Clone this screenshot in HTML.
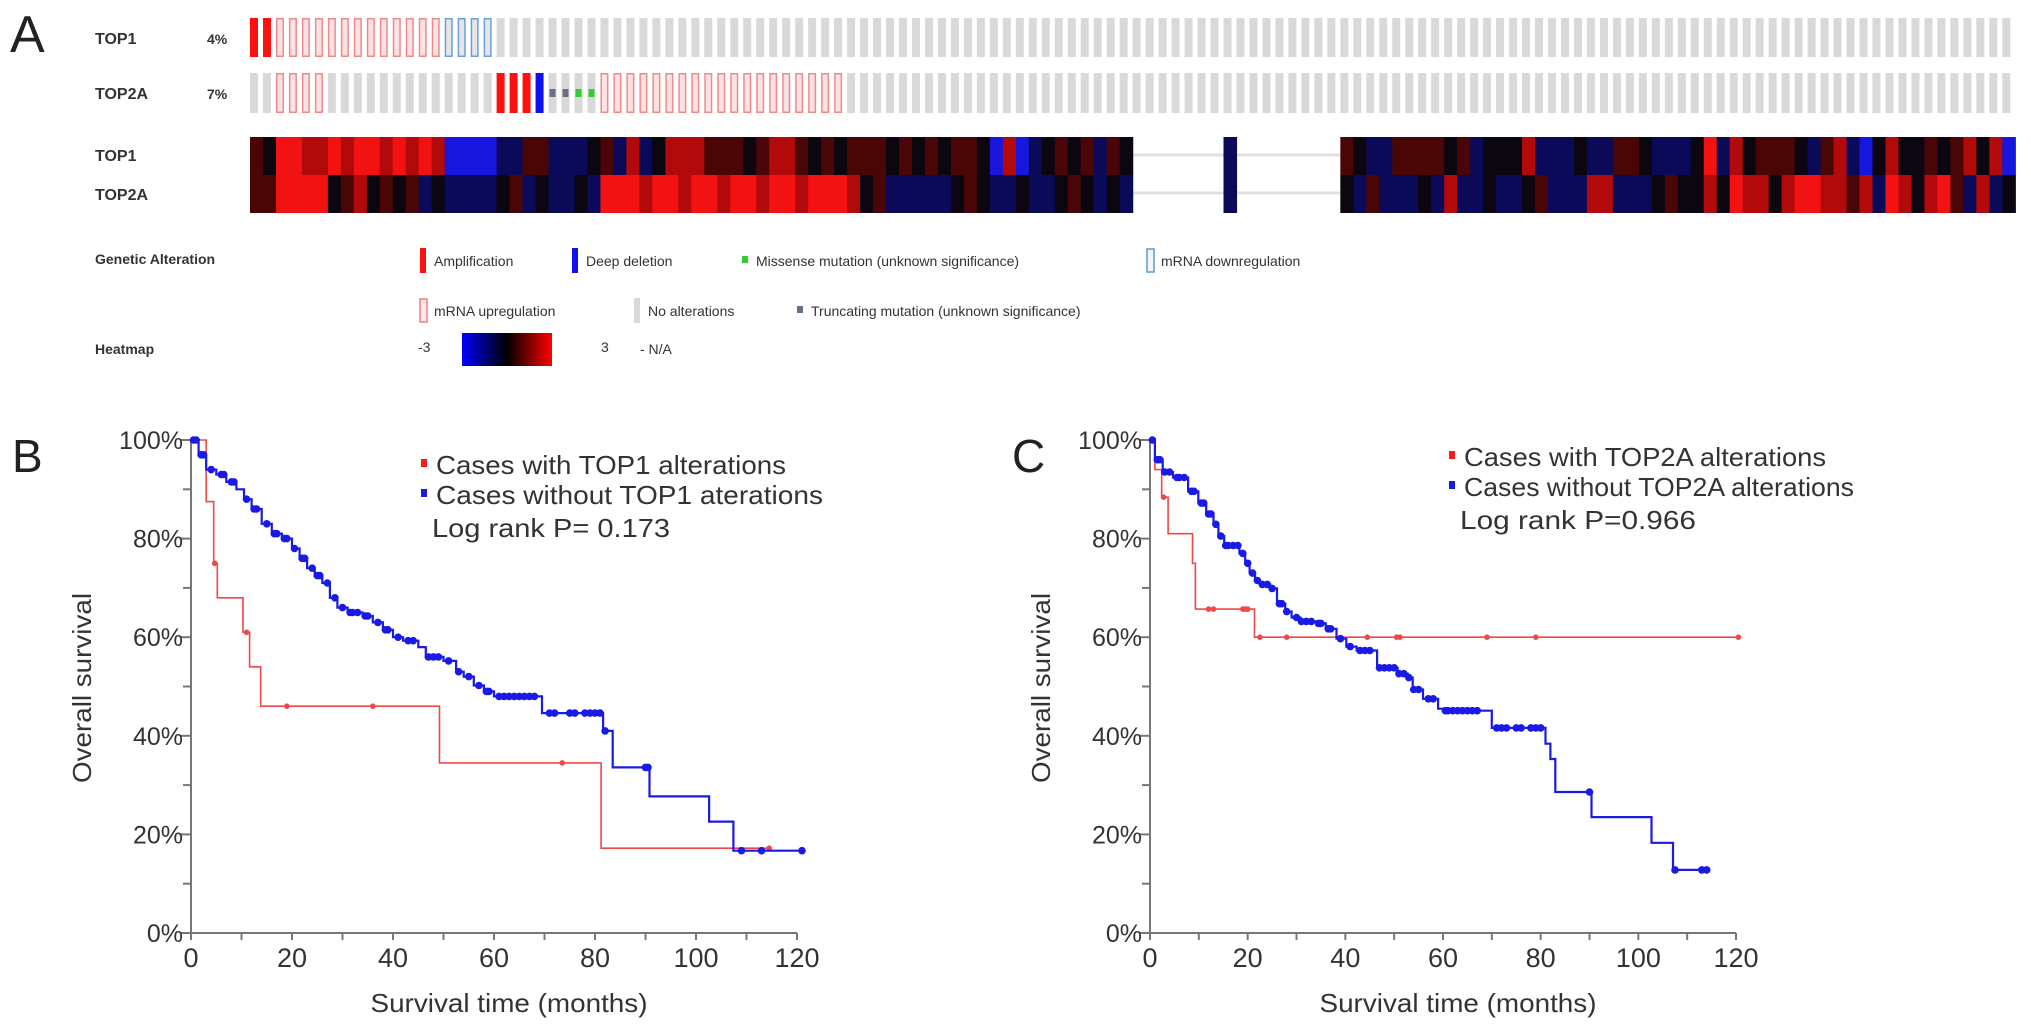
<!DOCTYPE html>
<html><head><meta charset="utf-8"><style>
html,body{margin:0;padding:0;background:#fff;}
svg{display:block;}
text{font-family:"Liberation Sans Narrow","Liberation Sans",sans-serif;}
</style></head><body>
<svg id="fig" width="2031" height="1030" viewBox="0 0 2031 1030" xmlns="http://www.w3.org/2000/svg">
<g id="panelA">
  <text x="10" y="52" font-size="52" fill="#222">A</text>
  <text x="95" y="44" font-size="16" font-weight="bold" fill="#333">TOP1</text>
  <text x="207" y="44" font-size="14" font-weight="bold" fill="#333">4%</text>
  <text x="95" y="99" font-size="16" font-weight="bold" fill="#333">TOP2A</text>
  <text x="207" y="99" font-size="14" font-weight="bold" fill="#333">7%</text>
  <text x="95" y="161" font-size="16" font-weight="bold" fill="#333">TOP1</text>
  <text x="95" y="200" font-size="16" font-weight="bold" fill="#333">TOP2A</text>
  <g id="onco"></g>
  <g id="heat"></g>
  <g font-size="14" fill="#333">
    <text x="95" y="264" font-weight="bold">Genetic Alteration</text>
    <rect x="420" y="248" width="6" height="25" fill="#ff1010"/>
    <text x="434" y="266">Amplification</text>
    <rect x="572" y="248" width="6" height="25" fill="#1010ee"/>
    <text x="586" y="266">Deep deletion</text>
    <rect x="742" y="256" width="6" height="7" fill="#33cc33"/>
    <text x="756" y="266">Missense mutation (unknown significance)</text>
    <rect x="1147" y="249" width="7" height="23" fill="#f4f4f4" stroke="#5b9bd5" stroke-width="1.5"/>
    <text x="1161" y="266">mRNA downregulation</text>
    <rect x="420" y="299" width="7" height="23" fill="#fde8e8" stroke="#f08080" stroke-width="1.5"/>
    <text x="434" y="316">mRNA upregulation</text>
    <rect x="634" y="298" width="6" height="25" fill="#d9d9d9"/>
    <text x="648" y="316">No alterations</text>
    <rect x="797" y="306" width="6" height="7" fill="#667088"/>
    <text x="811" y="316">Truncating mutation (unknown significance)</text>
    <text x="95" y="354" font-weight="bold">Heatmap</text>
    <text x="418" y="352">-3</text>
    <defs><linearGradient id="hg" x1="0" x2="1" y1="0" y2="0"><stop offset="0" stop-color="#0000ff"/><stop offset="0.5" stop-color="#000"/><stop offset="1" stop-color="#ff0000"/></linearGradient></defs>
    <rect x="462" y="333" width="90" height="33" fill="url(#hg)"/>
    <text x="601" y="352">3</text>
    <text x="640" y="354">- N/A</text>
  </g>
</g>
<g id="panelB"></g>
<g id="panelC"></g>
</svg>
<script>
// ---------- Oncoprint data ----------
const altTop1 = "AA" + "UUUUUUUUUUUUU" + "DDDD" + "-".repeat(117);
const altTop2a = "--" + "UUUU" + "-".repeat(13) + "AAA" + "X" + "TT" + "MM" + "U".repeat(19) + "-".repeat(90);
const heatTop1Seg1 = "dkRRrrRrRR" + "rRrRrBBBBn" + "nddnnnkdnr" + "nkrrrdddkd" + "rrdkdkdddk" + "dkdkddkBrB" + "nkdkdndk";
const heatTop1Seg2 = "dknnddddkd" + "nkkkrnnnkn" + "nddknnnkRn" + "rkdddkndrn" + "Bkrkkdkdrk" + "rB";
const heatTop2aSeg1 = "ddRRRRkdrk" + "dkdnknnnnk" + "dnknnknRRR" + "rRRrRRrRRr" + "RRrRRRrkdn" + "nnnnkdknnk" + "nnkdknkn";
const heatTop2aSeg2 = "kndnnnknrn" + "nknnkdnnnr" + "rnnnkdkkrk" + "RrrkrRRrrd" + "rnRrkrRdnr" + "nk";
const heatGap = "......." + "n" + "........";
const heatTop1 = heatTop1Seg1 + heatGap + heatTop1Seg2;
const heatTop2a = heatTop2aSeg1 + heatGap + heatTop2aSeg2;
const heatColors = {R:"#f21212", r:"#b20a0a", d:"#4a0606", k:"#0c0610", n:"#0a0a58", B:"#1616dc"};

const NS = "http://www.w3.org/2000/svg";
function mk(tag, attrs, parent){ const e=document.createElementNS(NS,tag); for(const k in attrs) e.setAttribute(k,attrs[k]); parent.appendChild(e); return e; }

const colX0 = 250, pitch = 12.98, barW = 8;
const onco = document.getElementById('onco');
function drawTrack(codes, y0, h, gene){
  for(let i=0;i<codes.length;i++){
    const c = codes[i]; const x = colX0 + i*pitch;
    let el;
    if(c==='A'){ el=mk('rect',{x:x,y:y0,width:barW,height:h,fill:'#ff1010'},onco); }
    else if(c==='X'){ el=mk('rect',{x:x,y:y0,width:barW,height:h,fill:'#1010ee'},onco); }
    else if(c==='U'){ el=mk('rect',{x:x+0.75,y:y0+0.75,width:barW-1.5,height:h-1.5,fill:'#fbe3e3',stroke:'#f08a8a','stroke-width':1.5},onco); }
    else if(c==='D'){ el=mk('rect',{x:x+0.75,y:y0+0.75,width:barW-1.5,height:h-1.5,fill:'#e6e6e6',stroke:'#6a9fd8','stroke-width':1.5},onco); }
    else {
      el=mk('rect',{x:x,y:y0,width:barW,height:h,fill:'#d9d9d9'},onco);
      if(c==='T'){ const m=mk('rect',{x:x+1,y:y0+h/2-4,width:barW-2,height:8,fill:'#667088'},onco);
        
         }
      if(c==='M'){ const m=mk('rect',{x:x+1,y:y0+h/2-4,width:barW-2,height:8,fill:'#33cc33'},onco);
        
         }
    }
    
    
  }
}
drawTrack(altTop1, 18, 39, 'top1');
drawTrack(altTop2a, 73, 40, 'top2a');

const heat = document.getElementById('heat');
const g1 = mk('line',{x1:1132,x2:1341,y1:155,y2:155,stroke:'#e0e0e0','stroke-width':3},heat);


const g2 = mk('line',{x1:1132,x2:1341,y1:193,y2:193,stroke:'#e0e0e0','stroke-width':3},heat);


function drawHeat(codes, y0, h, gene){
  for(let i=0;i<codes.length;i++){
    const c=codes[i]; if(c==='.') continue;
    const r=mk('rect',{x:(colX0+i*pitch).toFixed(2),y:y0,width:(pitch+0.6).toFixed(2),height:h,fill:heatColors[c]},heat);
    
    
  }
}
drawHeat(heatTop1, 137, 38, 'top1');
drawHeat(heatTop2a, 175, 38, 'top2a');

// ---------- KM data ----------
const xTicks = [0,20,40,60,80,100,120];
const yTicks = [0,20,40,60,80,100];
const bRedTimes = [0,3,4.5,5.2,10.3,11.6,13.8,49.2,81.2];
const bRedSurv  = [100,87.5,75,68,61,54,46,34.5,17.2];
const bRedEnd = 115;
const bRedCensor = [4.7,11,19,36,73.5,114.5];
const bBlueTimes = [0,1.5,3,5,7,9,10.5,12,14,16,18,20,21.5,23,24.5,26,27.5,29,31,34,36,38,40,42,45,46.5,50,52.5,54,56,58,60,69.5,81.6,83.5,90.8,102.6,107.4];
const bBlueSurv  = [100,97,94,93,91.5,90,88,86,83,81,80,78,76,74,72.5,71,68,66,65,64.3,63,61.5,60,59.3,58,56,55.2,53,52,50.2,49,48,44.6,41,33.6,27.7,22.6,16.7];
const bBlueEnd = 121;
const bBlueCensor = [0.5,1,2,2.5,4,6,6.5,8,8.5,11,12.5,13,15,16.5,17,18.5,19,20.5,22,22.5,24,25,25.5,27,28.5,30,31.5,32,33,34.5,35,37,38.5,39,41,43,44,47,48,49,51,53,55,57,58.5,59,61,62,63,64,65,66,67,68,71,72,75,76,78,79,80,81,82,90,90.5,109,113,121];

const cRedTimes = [0,1,2.4,3.7,8.7,9.3,21.4];
const cRedSurv  = [100,94,88.4,81,75,65.7,60];
const cRedEnd = 120.5;
const cRedCensor = [2.8,12,13,19,19.5,20,22.5,28,44.5,50.5,51.2,69,79,120.5];
const cBlueTimes = [0,1,2.6,4.7,7.8,9.9,11.5,13,14,15.2,18.3,19.5,20.4,21.5,22.5,24.6,26,27.7,29,30.8,34,36,38.2,40.2,42.3,46.5,50.7,52.8,53.8,55.9,59,60,70,81,82,83,90.4,102.7,107.1];
const cBlueSurv  = [100,96,93.5,92.4,89.6,87.2,85,82.9,80.5,78.6,77,75,73,71.5,70.7,69.9,66.8,65.2,64,63.2,62.8,61.7,59.7,58.1,57.3,53.8,52.6,51.8,49.4,47.5,45.5,45.1,41.6,38.4,35.3,28.6,23.5,18.3,12.8];
const cBlueEnd = 113.9;
const cBlueCensor = [0.5,1.5,2,3,4,5.5,6,7,8.5,9,10.5,11,12,12.5,13.5,14.5,15.5,16,17,18,19,20,21,22,23,24,25,26.5,27,28,30,31,32,33,34.5,35,36.5,37,39,41,43,44,45,47,48,49,50,51,52,53,54,55,57,58,60.5,61,62,63,64,65,66,67,71,72,73,75,76,78,79,80,90,107.5,113,114];

function survAt(times, surv, t){ let s=surv[0]; for(let i=0;i<times.length;i++){ if(times[i]<=t) s=surv[i]; } return s; }

function drawKM(gid, x0, x1, letter, letterX, gene, leg){
  const g = document.getElementById(gid);
  const y0 = 933, y100 = 440;
  const X = t => x0 + (x1-x0)*t/120;
  const Y = s => y0 - (y0-y100)*s/100;
  const ax = mk('path',{d:`M${x0} ${y100} V${y0} H${x1}`,fill:'none',stroke:'#777','stroke-width':2},g);
  
  
  for(let s=0;s<=100;s+=10){
    const len = (s%20===0)?10:8;
    const tk = mk('line',{x1:x0-len,x2:x0,y1:Y(s),y2:Y(s),stroke:'#777','stroke-width':2},g);
    
    
  }
  yTicks.forEach(v=>{
    const t = mk('text',{x:x0-8,y:Y(v)+9,'font-size':25,'text-anchor':'end',fill:'#333'},g);
    t.textContent = v+'%';
    
    
  });
  for(let m=0;m<=120;m+=10){
    const tk = mk('line',{x1:X(m),x2:X(m),y1:y0,y2:y0+7,stroke:'#777','stroke-width':2},g);
    
    
  }
  xTicks.forEach(v=>{
    const t = mk('text',{x:X(v),y:y0+34,'font-size':27,'text-anchor':'middle',fill:'#333'},g);
    t.textContent = v;
    
    
  });
  const yt = mk('text',{x:0,y:0,'font-size':26,'text-anchor':'middle',fill:'#333',transform:`translate(${x0-100},688) rotate(-90)`,textLength:190,lengthAdjust:'spacingAndGlyphs'},g);
  yt.textContent='Overall survival';
  
  
  const xt = mk('text',{x:(x0+x1)/2+15,y:1012,'font-size':26,'text-anchor':'middle',fill:'#333',textLength:277,lengthAdjust:'spacingAndGlyphs'},g);
  xt.textContent='Survival time (months)';
  
  
  const L = mk('text',{x:letterX,y:472,'font-size':46,fill:'#222'},g);
  L.textContent = letter;
  
  

  function series(times, surv, end, cens, color, r, w, name){
    let d = `M${X(times[0])} ${Y(surv[0])}`;
    for(let i=1;i<times.length;i++){ d += ` H${X(times[i]).toFixed(1)} V${Y(surv[i]).toFixed(1)}`; }
    d += ` H${X(end).toFixed(1)}`;
    const p = mk('path',{d:d,fill:'none',stroke:color,'stroke-width':w},g);
    
    
    cens.forEach(t=>{
      const c = mk('circle',{cx:X(t).toFixed(1),cy:Y(survAt(times,surv,t)).toFixed(1),r:r,fill:color},g);
      
      
    });
  }
  series(leg.redT, leg.redS, leg.redE, leg.redC, '#f04848', 2.8, 1.6, 'with-alteration');
  series(leg.blueT, leg.blueS, leg.blueE, leg.blueC, '#1a1ae6', 3.8, 2.2, 'without-alteration');

  const lx = leg.lx, ly = leg.ly;
  const m1 = mk('rect',{x:lx-15,y:ly-15,width:6,height:8,fill:'#ff1a1a'},g);
  
  
  const t1 = mk('text',{x:lx,y:ly,'font-size':26,fill:'#333',textLength:leg.w1,lengthAdjust:'spacingAndGlyphs'},g);
  t1.textContent = 'Cases with '+gene+' alterations';
  
  
  const m2 = mk('rect',{x:lx-15,y:ly+15,width:6,height:8,fill:'#1a1ae6'},g);
  
  
  const t2 = mk('text',{x:lx,y:ly+30,'font-size':26,fill:'#333',textLength:leg.w2,lengthAdjust:'spacingAndGlyphs'},g);
  t2.textContent = leg.t2;
  
  
  const t3 = mk('text',{x:lx-4,y:ly+63,'font-size':26,fill:'#333',textLength:leg.w3,lengthAdjust:'spacingAndGlyphs'},g);
  t3.textContent = leg.t3;
  
  
}
drawKM('panelB', 191, 797, 'B', 12, 'TOP1', {
  redT:bRedTimes, redS:bRedSurv, redE:bRedEnd, redC:bRedCensor,
  blueT:bBlueTimes, blueS:bBlueSurv, blueE:bBlueEnd, blueC:bBlueCensor,
  lx:436, ly:474, w1:350, w2:387, w3:238, t2:'Cases without TOP1 aterations', t3:'Log rank P= 0.173'});
drawKM('panelC', 1150, 1736, 'C', 1012, 'TOP2A', {
  redT:cRedTimes, redS:cRedSurv, redE:cRedEnd, redC:cRedCensor,
  blueT:cBlueTimes, blueS:cBlueSurv, blueE:cBlueEnd, blueC:cBlueCensor,
  lx:1464, ly:466, w1:362, w2:390, w3:236, t2:'Cases without TOP2A alterations', t3:'Log rank P=0.966'});
</script>
</body></html>
